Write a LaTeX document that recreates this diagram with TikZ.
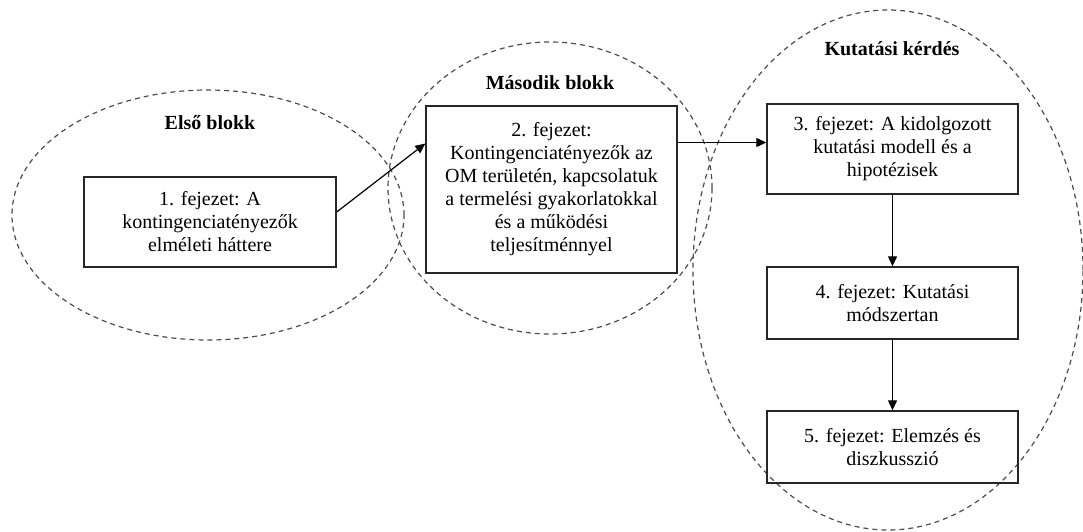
\documentclass[tikz,border=0pt]{standalone}
\usepackage{fontspec}
\setmainfont{Liberation Serif}
\usetikzlibrary{arrows.meta,shapes.geometric}
\begin{document}
\begin{tikzpicture}[x=1pt,y=-1pt,
  grp/.style={draw=black!70, dash pattern=on 5pt off 4pt, line width=1.2pt, ellipse, inner sep=0pt},
  chap/.style={draw=black!85, line width=1.4pt, align=center, inner sep=0pt, font=\fontsize{20}{23}\selectfont},
  ttl/.style={font=\fontsize{20}{23}\selectfont\bfseries},
  arr/.style={line width=1.2pt, -{Triangle[length=10pt,width=9pt]}}]
\useasboundingbox (0,0) rectangle (1083,531);
% grouping ellipses
\node[grp, minimum width=392pt, minimum height=250pt] (e1) at (208,215) {};
\node[grp, minimum width=324pt, minimum height=292pt] (e2) at (550,188) {};
\node[grp, minimum width=390pt, minimum height=520pt] (e3) at (888,270) {};
% titles
\node[ttl] (t1) at (210,123) {Első blokk};
\node[ttl] (t2) at (550,83) {Második blokk};
\node[ttl] (t3) at (892,49) {Kutatási kérdés};
% chapter boxes
\node[chap, minimum width=252pt, minimum height=90pt] (b1) at (210,222)
  {1. fejezet: A\\kontingenciatényezők\\elméleti háttere};
\node[chap, minimum width=251pt, minimum height=167pt] (b2) at (551.5,189.5)
  {2. fejezet:\\Kontingenciatényezők az\\OM területén, kapcsolatuk\\a termelési gyakorlatokkal\\és a működési\\teljesítménnyel};
\node[chap, minimum width=251pt, minimum height=90pt] (b3) at (892.5,149)
  {3. fejezet: A kidolgozott\\kutatási modell és a\\hipotézisek};
\node[chap, minimum width=251pt, minimum height=72pt] (b4) at (892.5,303)
  {4. fejezet: Kutatási\\módszertan};
\node[chap, minimum width=251pt, minimum height=72pt] (b5) at (892.5,447)
  {5. fejezet: Elemzés és\\diszkusszió};
% connectors
\draw[arr] ([yshift=10pt]b1.east) -- ([yshift=46pt]b2.west);
\draw[arr] ([yshift=47pt]b2.east) -- ([yshift=47pt]b2.east -| b3.west);
\draw[arr] (b3.south) -- (b4.north);
\draw[arr] (b4.south) -- (b5.north);
\end{tikzpicture}
\end{document}
